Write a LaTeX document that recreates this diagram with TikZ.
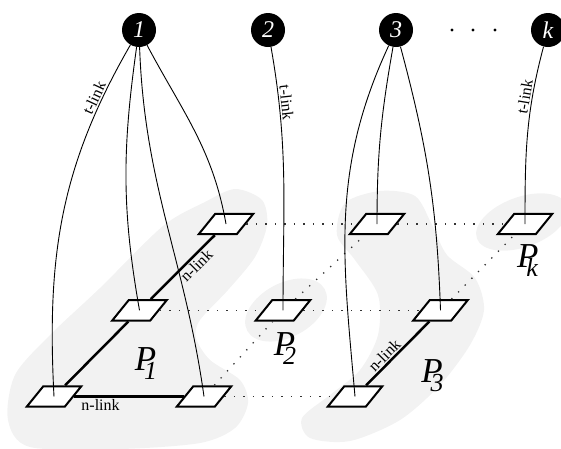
\documentclass[tikz,border=0pt]{standalone}
\usepackage{fontspec}
\setmainfont{Liberation Serif}
\usetikzlibrary{shapes.geometric}

\newcommand{\psub}[1]{P\kern-12pt\raisebox{-9pt}{\fontsize{26}{26}\selectfont #1}}

\begin{document}
\begin{tikzpicture}[
    x=1pt, y=1pt,
    terminal/.style={circle, fill=black, text=white, inner sep=0pt,
                     minimum size=34pt, font=\fontsize{24}{24}\selectfont\itshape},
    pixel/.style={trapezium, trapezium left angle=51, trapezium right angle=129,
                  draw, line width=2pt, fill=white,
                  inner xsep=10.75pt, inner ysep=10.2pt},
    region/.style={fill=black!5},
    tlink/.style={line width=0.9pt},
    nlink/.style={line width=2.5pt},
    grid/.style={line width=1.3pt, dash pattern=on 1.3pt off 8.2pt, black!80},
    lbl/.style={font=\fontsize{16}{16}\selectfont, inner sep=1.5pt},
    part/.style={inner sep=0pt, font=\fontsize{35}{35}\selectfont\itshape},
    dot/.style={circle, fill=black, inner sep=0pt, minimum size=3.2pt},
]
\useasboundingbox (0,0) rectangle (561,-448);

% ── Partition regions (light grey, behind everything) ──────────────
\fill[region] plot[smooth cycle] coordinates {
    (235,-189) (262,-200) (267,-225) (255,-257) (228,-290) (200,-320)
    (196,-338) (210,-360) (240,-380) (248,-403) (235,-428) (200,-443)
    (120,-449) (30,-447) (8,-420) (15,-375) (50,-335) (100,-288)
    (163,-226) (205,-202)};
\fill[region] (286,-310) ellipse[x radius=44, y radius=27, rotate=28];
\fill[region] plot[smooth cycle] coordinates {
    (380,-191) (415,-196) (432,-225) (447,-255) (475,-278) (484,-310)
    (470,-345) (440,-385) (400,-420) (350,-441) (310,-438) (302,-418)
    (330,-395) (360,-370) (378,-335) (378,-295) (355,-260) (337,-235)
    (345,-203)};
\fill[region] (522,-222) ellipse[x radius=48, y radius=25, rotate=20];

% ── Row 0  y=-30 : terminals ───────────────────────────────────────
\node[terminal] (c1) at (139,-30) {1};
\node[terminal] (c2) at (268,-30) {2};
\node[terminal] (c3) at (396,-30) {3};
\node[terminal] (ck) at (548,-30) {k};
\node[dot] (dot1) at (452,-30) {};
\node[dot] (dot2) at (473,-30) {};
\node[dot] (dot3) at (495,-30) {};

% ── Row 1  y=-224 : top pixels ─────────────────────────────────────
\node[pixel] (p1d) at (226,-224) {};
\node[pixel] (p3c) at (377,-224) {};
\node[pixel] (pk)  at (525,-224) {};

% ── Row 2  y=-310 : middle pixels ──────────────────────────────────
\node[pixel] (p1c) at (139.5,-310.3) {};
\node[pixel] (p2)  at (283,-310.3) {};
\node[pixel] (p3b) at (440.5,-310.3) {};

% ── Row 3  y=-396 : bottom pixels ──────────────────────────────────
\node[pixel] (p1a) at (54,-396.5) {};
\node[pixel] (p1b) at (204,-396.5) {};
\node[pixel] (p3a) at (355,-396.5) {};

% ── Partition names ────────────────────────────────────────────────
\node[part] (n1) at (146,-364) {\psub{1}};
\node[part] (n2) at (285,-349) {\psub{2}};
\node[part] (n3) at (432.5,-376) {\psub{3}};
\node[part] (nk) at (527.5,-261) {\psub{k}};

% ── Neighbour grid (dotted, between partitions) ────────────────────
\draw[grid] (p1d) -- (p3c);
\draw[grid] (p3c) -- (pk);
\draw[grid] (p1c) -- (p2);
\draw[grid] (p2)  -- (p3b);
\draw[grid] (p1b) -- (p3a);
\draw[grid] (p1b) -- (p2);
\draw[grid] (p2)  -- (p3c);
\draw[grid] (p3b) -- (pk);

% ── n-links (inside a partition) ───────────────────────────────────
\draw[nlink] (p1a) -- node[lbl, below, pos=0.24] {n-link} (p1b);
\draw[nlink] (p1a) -- (p1c);
\draw[nlink] (p1c) -- node[lbl, below, sloped, pos=0.62] {n-link} (p1d);
\draw[nlink] (p3a) -- node[lbl, above, sloped, pos=0.38] {n-link} (p3b);

% ── t-links (terminal to pixel centre) ─────────────────────────────
\draw[tlink] (c1) to[out=240, in=93]
    node[lbl, above, sloped, pos=0.16] {t-link} (p1a.center);
\draw[tlink] (c1) to[out=262, in=100] (p1c.center);
\draw[tlink] (c1) to[out=272, in=98]  (p1b.center);
\draw[tlink] (c1) to[out=298, in=100] (p1d.center);
\draw[tlink] (c2) to[out=280, in=90]
    node[lbl, above, sloped, pos=0.2] {t-link} (p2.center);
\draw[tlink] (c3) to[out=245, in=95]  (p3a.center);
\draw[tlink] (c3) to[out=260, in=90]  (p3c.center);
\draw[tlink] (c3) to[out=285, in=92]  (p3b.center);
\draw[tlink] (ck) to[out=255, in=90]
    node[lbl, above, sloped, pos=0.28] {t-link} (pk.center);

\end{tikzpicture}
\end{document}
